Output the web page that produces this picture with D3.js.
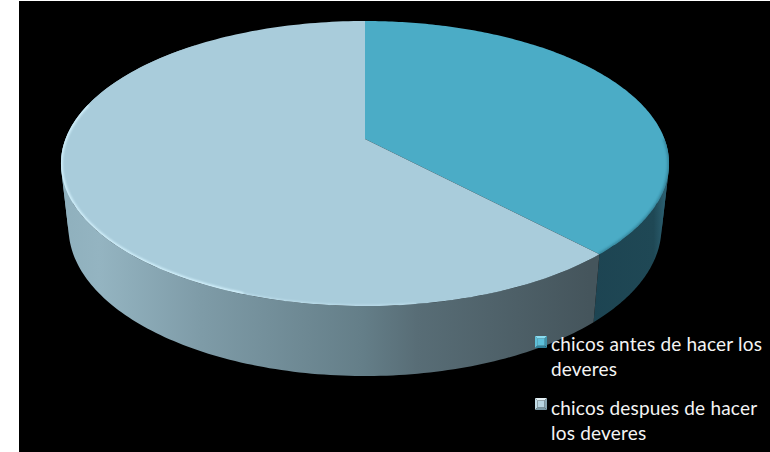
<!DOCTYPE html>
<html><head><meta charset="utf-8">
<script src="https://cdn.jsdelivr.net/npm/d3@7"></script>
<style>html,body{margin:0;padding:0;background:#fff}svg{display:block}</style>
</head><body>
<svg id="c" width="770" height="452"></svg>
<script>
const categories = ["chicos antes de hacer los deveres", "chicos despues de hacer los deveres"];
const legendLines = [["chicos antes de hacer los", "deveres"], ["chicos despues de hacer", "los deveres"]];
const values = [38, 62];
const topColors = ["#4bacc6", "#a9ccdb"];

const svg = d3.select("#c");
const defs = svg.append("defs");
svg.append("rect").attr("x", 19).attr("y", 1).attr("width", 751).attr("height", 451).attr("fill", "#000");

// perspective projection of a unit disc
const cx = 365, persp = -0.172, kx = 299.5, ay = 114.4, by = 139;
const topPt = a => {
  const u = Math.sin(a), v = -Math.cos(a), d = 1 + persp * v;
  return [cx + kx * u / d, (ay * v + by) / d];
};
const botPt = a => {
  const p = topPt(a);
  return [cx + 0.975 * (p[0] - cx), 376 - 1.04 * (306 - p[1])];
};
const arcs = d3.pie().sort(null).value(d => d)(values);
const samples = (a0, a1) => d3.range(0, 181).map(i => a0 + (a1 - a0) * i / 180);
const line = d3.line();
const deg = d => d * Math.PI / 180;

const grads = [
  ["wall0", [["0%", "#1d4452"], ["85%", "#1f4855"], ["100%", "#2b5f70"]], 590, 665],
  ["wall1", [["0%", "#8fb0bd"], ["7%", "#94b4c1"], ["26%", "#7e9ba7"], ["56%", "#647e88"], ["66%", "#586d76"], ["98%", "#45555c"]], 62, 600]
];
grads.forEach(g => {
  const lg = defs.append("linearGradient").attr("id", g[0]).attr("gradientUnits", "userSpaceOnUse")
    .attr("x1", g[2]).attr("x2", g[3]).attr("y1", 0).attr("y2", 0);
  g[1].forEach(s => lg.append("stop").attr("offset", s[0]).attr("stop-color", s[1]));
});
const blur = defs.append("filter").attr("id", "soft").attr("x", "-5%").attr("y", "-5%").attr("width", "110%").attr("height", "110%");
blur.append("feGaussianBlur").attr("stdDeviation", 0.8);

// walls: split where the rim turns over, so each run has one winding direction
const wallStart = [deg(40), arcs[0].endAngle];
const wallEnd = [arcs[0].endAngle, deg(320)];
const side = (a, b) => {
  const p = topPt(a), q = topPt(b), r = botPt(a);
  return Math.sign((q[0] - p[0]) * (r[1] - p[1]) - (q[1] - p[1]) * (r[0] - p[0]));
};
[0, 1].forEach(i => {
  const s = samples(wallStart[i], wallEnd[i]);
  const runs = [];
  let run = [s[0]], cur = side(s[0], s[1]);
  for (let j = 1; j < s.length; j++) {
    run.push(s[j]);
    const next = j < s.length - 1 ? side(s[j], s[j + 1]) : cur;
    if (next !== cur) { runs.push(run); run = [s[j]]; cur = next; }
  }
  runs.push(run);
  runs.forEach(r => {
    if (r.length < 2) return;
    svg.append("path").attr("d", line([...r.map(topPt), ...r.slice().reverse().map(botPt)]) + "Z")
      .attr("fill", `url(#wall${i})`);
  });
});

// top faces
arcs.forEach((d, i) => {
  const pts = samples(d.startAngle, d.endAngle).map(topPt);
  svg.append("path").attr("d", line([[cx, by], ...pts]) + "Z").attr("fill", topColors[i]);
});

// bevel along the rim
const clip = defs.append("clipPath").attr("id", "topClip");
clip.append("path").attr("d", line(samples(0, 2 * Math.PI).map(topPt)) + "Z");
const rimG = svg.append("g").attr("clip-path", "url(#topClip)");
rimG.append("path").attr("d", line(samples(deg(200), deg(285)).map(topPt)))
  .attr("fill", "none").attr("stroke", "#d6f4ff").attr("stroke-width", 3.5).attr("filter", "url(#soft)").attr("opacity", 0.9);
rimG.append("path").attr("d", line(samples(deg(172), deg(202)).map(topPt)))
  .attr("fill", "none").attr("stroke", "#d6f4ff").attr("stroke-width", 2.5).attr("filter", "url(#soft)").attr("opacity", 0.45);
rimG.append("path").attr("d", line(samples(deg(90), arcs[0].endAngle).map(topPt)))
  .attr("fill", "none").attr("stroke", "#2a6f84").attr("stroke-width", 3).attr("filter", "url(#soft)").attr("opacity", 0.65);

// legend
const legendY = d3.scalePoint().domain(categories).range([343, 407]);
const markerY = d3.scalePoint().domain(categories).range([336, 398]);
const markerSize = 12;
const markerFaces = [
  { top: "#8adcf0", left: "#5fc0d8", right: "#3f93ab", bottom: "#2f7f98", mid: "#5cc0da" },
  { top: "#e4f1f6", left: "#c3dce6", right: "#8aa6b2", bottom: "#7a97a3", mid: "#b9d5e1" }
];
categories.forEach((c, i) => {
  const x0 = 535, y0 = markerY(c), x1 = x0 + markerSize, y1 = y0 + markerSize, b = 2.5, f = markerFaces[i];
  const m = svg.append("g");
  const tl = [x0, y0], tr = [x1, y0], br = [x1, y1], bl = [x0, y1];
  const itl = [x0 + b, y0 + b], itr = [x1 - b, y0 + b], ibr = [x1 - b, y1 - b], ibl = [x0 + b, y1 - b];
  [[[tl, tr, itr, itl], f.top], [[tl, bl, ibl, itl], f.left], [[tr, br, ibr, itr], f.right],
   [[bl, br, ibr, ibl], f.bottom], [[itl, itr, ibr, ibl], f.mid]].forEach(q => {
    m.append("path").attr("d", line(q[0]) + "Z").attr("fill", q[1]);
  });
  legendLines[i].forEach((t, j) => {
    svg.append("text").attr("x", 551).attr("y", legendY(c) + 8 + j * 24.5)
      .attr("font-family", "Lato, 'Open Sans', sans-serif").attr("font-size", 19).attr("letter-spacing", 0.2)
      .attr("fill", "#f4f4f4").text(t);
  });
});
</script>
</body></html>
